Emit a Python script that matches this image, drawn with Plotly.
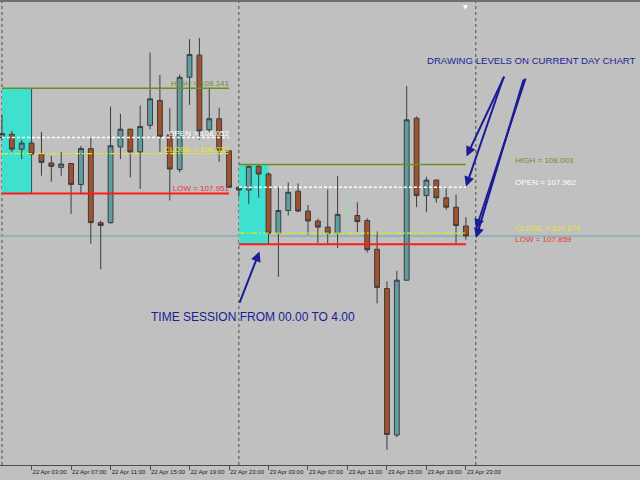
import pandas as pd
import plotly.graph_objects as go

# ---------------- data ----------------
bar_times = pd.date_range("2020-04-22 00:00", periods=48, freq="h")

opens = [108.052, 108.058, 108.031, 108.042, 108.022, 108.006, 107.998, 108.005, 107.967, 108.032, 107.898, 107.898,
         108.035, 108.067, 108.026, 108.074, 108.119, 108.057, 107.994, 108.161, 108.201, 108.066, 108.086, 108.028,
         107.962, 107.957, 108.000, 107.986, 107.879, 107.920, 107.955, 107.919, 107.901, 107.890, 107.879, 107.914,
         107.911, 107.902, 107.850, 107.779, 107.514, 107.794, 108.087, 107.947, 107.975, 107.943, 107.926, 107.892]
highs = [108.093, 108.064, 108.048, 108.046, 108.062, 108.019, 108.026, 108.006, 108.037, 108.051, 107.902, 108.108,
         108.095, 108.068, 108.110, 108.206, 108.165, 108.105, 108.166, 108.230, 108.232, 108.141, 108.106, 108.029,
         107.963, 108.001, 108.003, 107.989, 107.963, 107.971, 107.969, 107.930, 107.905, 107.958, 107.982, 107.962,
         107.935, 107.906, 107.882, 107.792, 107.811, 108.145, 108.090, 107.981, 107.976, 107.964, 107.949, 107.908]
lows = [108.048, 108.026, 108.013, 108.019, 107.983, 107.972, 107.983, 107.914, 107.951, 107.860, 107.814, 107.896,
        108.013, 107.980, 107.959, 108.067, 108.026, 107.938, 107.989, 108.111, 108.048, 108.060, 108.008, 107.961,
        107.944, 107.932, 107.943, 107.859, 107.800, 107.911, 107.917, 107.876, 107.861, 107.861, 107.852, 107.877,
        107.881, 107.844, 107.752, 107.487, 107.510, 107.793, 107.926, 107.917, 107.934, 107.921, 107.858, 107.867]
closes = [108.059, 108.031, 108.042, 108.022, 108.007, 108.000, 108.004, 107.967, 108.032, 107.898, 107.893, 108.037,
          108.067, 108.026, 108.072, 108.122, 108.054, 107.995, 108.161, 108.202, 108.064, 108.086, 108.029, 107.962,
          107.957, 108.000, 107.986, 107.879, 107.920, 107.953, 107.919, 107.901, 107.890, 107.879, 107.913, 107.914,
          107.900, 107.849, 107.781, 107.515, 107.794, 108.084, 107.947, 107.975, 107.943, 107.926, 107.893, 107.874]
doji_index = 35

level_names = ["HIGH", "OPEN", "CLOSE", "LOW"]
day1_levels = [108.141, 108.052, 108.023, 107.951]
day2_levels = [108.003, 107.962, 107.879, 107.859]

day_starts = ["2020-04-22 00:00", "2020-04-23 00:00"]
day_ends = ["2020-04-22 23:00", "2020-04-23 23:00"]
session_ends = ["2020-04-22 03:00", "2020-04-23 03:00"]
label_anchor_times = ["2020-04-22 23:00", "2020-04-24 04:00"]
separators = ["2020-04-22 00:00", "2020-04-23 00:00", "2020-04-24 00:00"]
shift_marker_time = "2020-04-23 23:00"
bid_price = 107.874

tick_times = pd.date_range("2020-04-22 03:00", "2020-04-23 23:00", freq="4h")
tick_labels = [t.strftime("%d %b %H:%M") for t in tick_times]

x_range = ["2020-04-21 23:48", "2020-04-24 16:38"]
y_range = [107.4598, 108.3007]

# ---------------- styles ----------------
BG = "#c0c0c0"
BULL = "#5f9ea0"
BEAR = "#a0522d"
OUTLINE = "#3c3c3c"
level_colors = ["#6b8e23", "#ffffff", "#e6e61e", "#ff1a1a"]
label_colors = ["#6f8f2f", "#ffffff", "#e8e820", "#f03030"]
level_dash = ["solid", "3px,2px", "6px,2px,2px,2px", "solid"]
level_width = [1.5, 1.5, 1.2, 2]
NAVY = "#1c1c96"
FONT = "Arial, Liberation Sans, sans-serif"

fig = go.Figure()

shapes = []
for i in range(2):
    levels = [day1_levels, day2_levels][i]
    shapes.append(dict(type="rect", xref="x", yref="y", x0=day_starts[i], x1=session_ends[i],
                       y0=levels[3], y1=levels[0], fillcolor="#40e0d0", line=dict(width=0), layer="below"))
shapes.append(dict(type="line", xref="x", yref="y", x0=session_ends[0], x1=session_ends[0],
                   y0=day1_levels[3], y1=day1_levels[0], line=dict(color="#2f4f4f", width=1), layer="below"))
for s in separators:
    shapes.append(dict(type="line", xref="x", yref="paper", x0=s, x1=s, y0=0, y1=1,
                       line=dict(color="#4a4a4a", width=1, dash="dot"), layer="below"))
shapes.append(dict(type="line", xref="paper", yref="y", x0=0, x1=1, y0=bid_price, y1=bid_price,
                   line=dict(color="#7fb3b3", width=1.5), layer="below"))
shapes.append(dict(type="line", xref="paper", yref="paper", x0=0, x1=1, y0=1, y1=1,
                   line=dict(color="#6e6e6e", width=4)))

# level lines
for i in range(2):
    levels = [day1_levels, day2_levels][i]
    for k, name in enumerate(level_names):
        fig.add_trace(go.Scatter(x=[day_starts[i], day_ends[i]], y=[levels[k], levels[k]], mode="lines",
                                 line=dict(color=level_colors[k], width=level_width[k], dash=level_dash[k]),
                                 hoverinfo="skip", showlegend=False))

# level labels (below candles)
for i in range(2):
    levels = [day1_levels, day2_levels][i]
    fig.add_trace(go.Scatter(
        x=[label_anchor_times[i]] * 4, y=levels, mode="text",
        text=[f"{n} = {v:.3f}" for n, v in zip(level_names, levels)],
        textposition="top left" if i == 0 else "top right",
        textfont=dict(family=FONT, size=8, color=label_colors),
        hoverinfo="skip", showlegend=False))

# candles
idx = [j for j in range(len(opens)) if j != doji_index]
fig.add_trace(go.Candlestick(
    x=[bar_times[j] for j in idx],
    open=[opens[j] for j in idx], high=[highs[j] for j in idx],
    low=[lows[j] for j in idx], close=[closes[j] for j in idx],
    increasing=dict(fillcolor=BULL, line=dict(color=OUTLINE, width=1)),
    decreasing=dict(fillcolor=BEAR, line=dict(color=OUTLINE, width=1)),
    hoverinfo="skip", showlegend=False))

# doji bar (drawn in light green)
t_d = bar_times[doji_index]
fig.add_trace(go.Scatter(x=[t_d, t_d], y=[lows[doji_index], highs[doji_index]], mode="lines",
                         line=dict(color="#9fd8a8", width=1), hoverinfo="skip", showlegend=False))
fig.add_trace(go.Scatter(x=[t_d], y=[opens[doji_index]], mode="markers",
                         marker=dict(symbol="line-ew", size=7, line=dict(color="#9fd8a8", width=1)),
                         hoverinfo="skip", showlegend=False))

annotations = [
    dict(xref="paper", yref="paper", x=0.831, y=0.8695, xanchor="center", yanchor="middle",
         text="DRAWING LEVELS ON CURRENT DAY CHART",
         showarrow=False, font=dict(family=FONT, size=9.6, color=NAVY)),
    dict(xref="paper", yref="paper", x=0.3953, y=0.3189, xanchor="center", yanchor="middle",
         text="TIME SESSION FROM 00.00 TO 4.00",
         showarrow=False, font=dict(family=FONT, size=12, color=NAVY)),
    dict(xref="x", yref="paper", x=shift_marker_time, y=1, xanchor="center", yanchor="top", yshift=-1,
         text="▼", showarrow=False, font=dict(family="DejaVu Sans", size=6, color="#ffffff")),
]
arrows = [(0.7289, 0.6634, 38.5, -81.5), (0.7281, 0.5989, 38, -110.5),
          (0.7438, 0.5075, 50, -152), (0.7438, 0.4882, 48, -160), (0.4055, 0.4591, -20.5, 52.5)]
for (hx, hy, ax, ay) in arrows:
    annotations.append(dict(xref="paper", yref="paper", x=hx, y=hy, ax=ax, ay=ay, text="",
                            showarrow=True, arrowhead=2, arrowsize=1, arrowwidth=2, arrowcolor=NAVY))

fig.update_layout(
    width=640, height=480, margin=dict(l=0, r=0, t=0, b=15, autoexpand=False),
    paper_bgcolor=BG, plot_bgcolor=BG, showlegend=False,
    shapes=shapes, annotations=annotations, hovermode=False,
    xaxis=dict(type="date", range=x_range, showgrid=False, zeroline=False, rangeslider=dict(visible=False),
               showline=True, linecolor="#4d4d4d", linewidth=1, automargin=False,
               tickmode="array", tickvals=list(tick_times), ticktext=tick_labels, tickangle=0,
               ticks="outside", ticklen=4, tickcolor="#4d4d4d", tickwidth=1,
               ticklabelshift=18, ticklabelstandoff=-3,
               tickfont=dict(family=FONT, size=6, color="#1a1a1a"), fixedrange=True),
    yaxis=dict(range=y_range, visible=False, showgrid=False, zeroline=False, fixedrange=True, automargin=False),
)

fig.write_html("out.html", config={"displayModeBar": False},
               post_script="document.body.style.margin='0';document.body.style.background='#c0c0c0';")
